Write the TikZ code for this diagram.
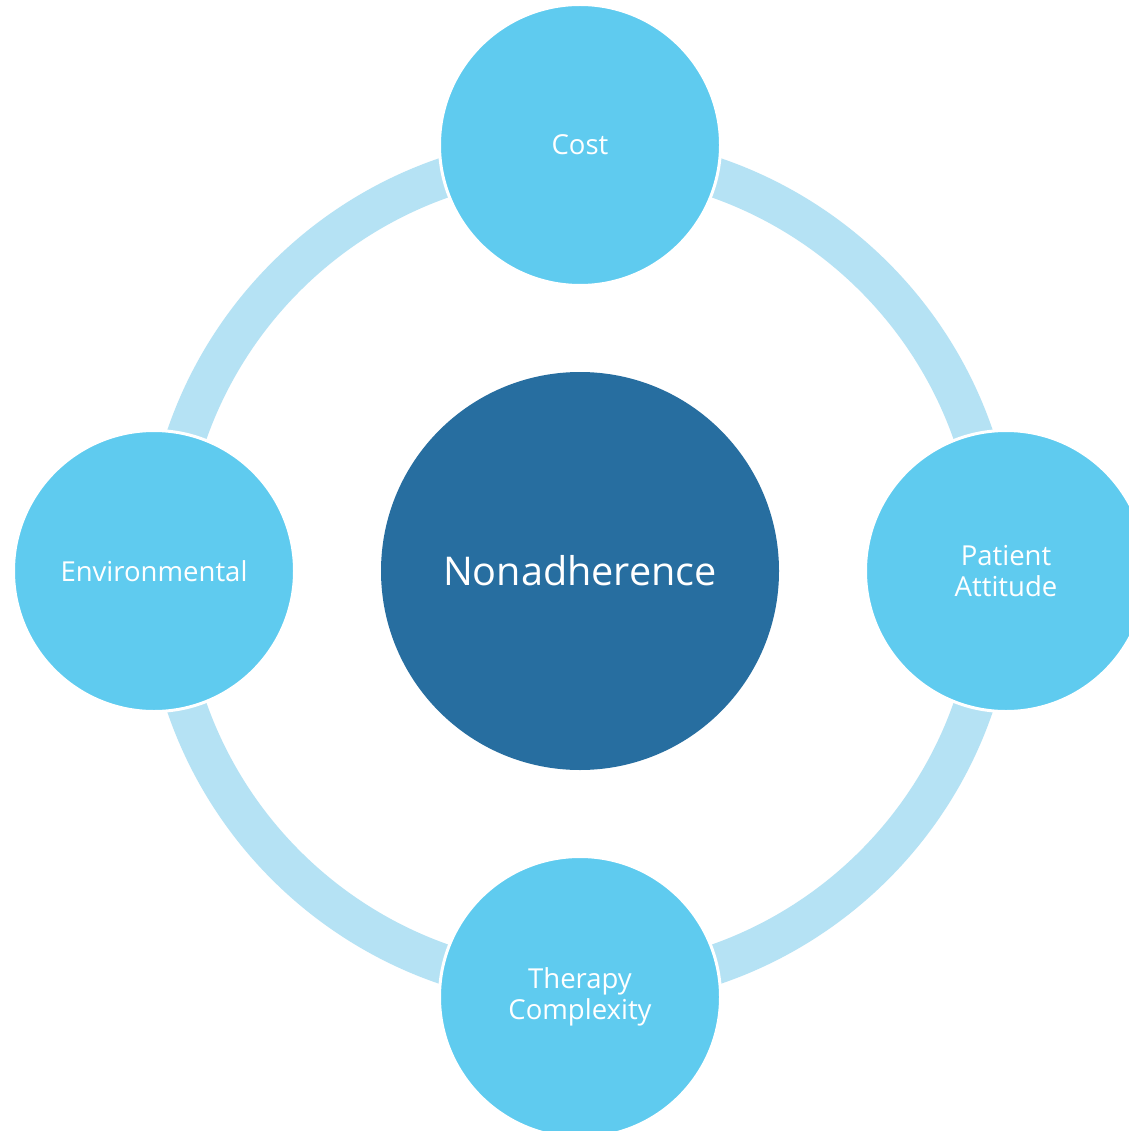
\documentclass[tikz,border=0pt]{standalone}
\usepackage{fontspec}
\setmainfont{Open Sans}
\definecolor{outerc}{HTML}{5FCBEF}
\definecolor{ringc}{HTML}{B5E2F4}
\definecolor{centerc}{HTML}{276EA0}
\begin{document}
\begin{tikzpicture}[x=1pt,y=-1pt,
  sat/.style={circle,fill=outerc,draw=white,line width=3pt,minimum size=281pt,inner sep=0pt,text=white,align=center,font=\fontsize{27.5}{31}\selectfont},
  hub/.style={circle,fill=centerc,minimum size=398pt,inner sep=0pt,text=white,font=\fontsize{39.6}{48}\selectfont}]
\useasboundingbox (0,0) rectangle (1128,1131);
\fill[white] (0,0) rectangle (1128,1131);
\coordinate (c) at (580,571);
\draw[ringc,line width=40pt] (c) circle[radius=416];
\node[hub] (hub) at (580,571) {Nonadherence};
\node[sat] (cost) at (580,145) {Cost};
\node[sat] (pat) at (1006,571) {Patient\\Attitude};
\node[sat] (ther) at (580,997) {Therapy\\Complexity};
\node[sat] (env) at (154,571) {Environmental};
\end{tikzpicture}
\end{document}
